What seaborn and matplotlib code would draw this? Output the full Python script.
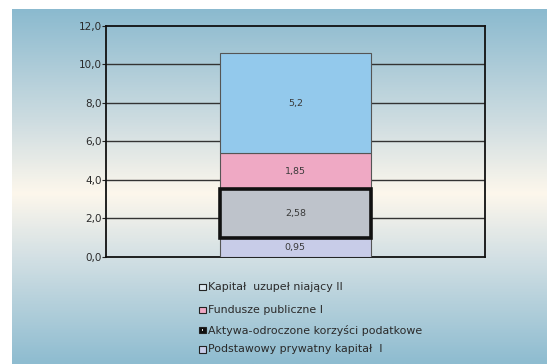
import numpy as np
import pandas as pd
import matplotlib
matplotlib.use("Agg")
import matplotlib.pyplot as plt
from matplotlib.patches import Rectangle
from matplotlib.colors import LinearSegmentedColormap
import seaborn as sns

# ---- data ----
segments = ["Podstawowy prywatny kapitał  I",
            "Aktywa-odroczone korzyści podatkowe",
            "Fundusze publiczne I",
            "Kapitał  uzupeł niający II"]
values = [0.95, 2.58, 1.85, 5.2]
value_labels = ["0,95", "2,58", "1,85", "5,2"]
legend_order = ["Kapitał  uzupeł niający II",
                "Fundusze publiczne I",
                "Aktywa-odroczone korzyści podatkowe",
                "Podstawowy prywatny kapitał  I"]
y_ticks = [0, 2, 4, 6, 8, 10, 12]
y_tick_labels = ["0,0", "2,0", "4,0", "6,0", "8,0", "10,0", "12,0"]

colors = {"Podstawowy prywatny kapitał  I": "#c8cce8",
          "Aktywa-odroczone korzyści podatkowe": "#bec3cb",
          "Fundusze publiczne I": "#efa9c4",
          "Kapitał  uzupeł niający II": "#93c9ec"}
legend_marker = {"Kapitał  uzupeł niający II": "#dde9f1",
                 "Fundusze publiczne I": "#efa9c4",
                 "Aktywa-odroczone korzyści podatkowe": "#111111",
                 "Podstawowy prywatny kapitał  I": "#c8cce8"}

sns.set_theme(style="white")
plt.rcParams['font.family'] = ['DejaVu Sans']

W, H = 547, 364
fig = plt.figure(figsize=(W / 100, H / 100), dpi=100)
fig.patch.set_facecolor("white")

# ---- background gradient ----
bg = fig.add_axes([12 / W, 0, 1 - 12 / W, (H - 9) / H], zorder=-10)
stops = [(0.0, (139, 186, 207)), (0.32, (207, 221, 225)), (0.52, (253, 247, 236)),
         (0.70, (211, 224, 228)), (1.0, (142, 188, 208))]
cmap = LinearSegmentedColormap.from_list(
    "bgg", [(p, tuple(c / 255 for c in col)) for p, col in stops])
grad = np.linspace(0, 1, 400).reshape(-1, 1)
bg.imshow(grad, aspect="auto", cmap=cmap, extent=[0, 1, 0, 1], origin="upper")
bg.set_axis_off()

# ---- main axes ----
ax = fig.add_axes([106 / W, 1 - 256.7 / H, (484.7 - 106) / W, (256.7 - 26) / H])
ax.set_facecolor("none")

df = pd.DataFrame({"cat": [""] * len(values), "seg": segments, "val": values})
bottoms = np.concatenate([[0], np.cumsum(values)[:-1]])
for i, row in df.iterrows():
    thick = row["seg"].startswith("Aktywa")
    sns.barplot(x=[row["cat"]], y=[row["val"]], bottom=bottoms[i], ax=ax,
                color=colors[row["seg"]], width=0.4, saturation=1,
                edgecolor="#111111" if thick else "#555555",
                linewidth=2.6 if thick else 0.8, zorder=3 + (1 if thick else 0))
    ax.text(0, bottoms[i] + row["val"] / 2, value_labels[i], ha="center", va="center",
            fontsize=6.8, color="#3a3a3a", zorder=6)

ax.set_xlim(-0.5, 0.5)
ax.set_ylim(0, 12)
ax.set_yticks(y_ticks)
ax.set_yticklabels(y_tick_labels, fontsize=7.5, color="#2a2a2a")
ax.set_xticks([])
ax.set_xlabel("")
ax.set_ylabel("")
ax.tick_params(axis="y", length=3, width=0.8, color="#222222", pad=0, left=True, direction="out")
for yv in y_ticks[1:-1]:
    ax.axhline(yv, color="#333333", lw=1.0, zorder=1)
for s in ax.spines.values():
    s.set_visible(True)
    s.set_color("#111111")
    s.set_linewidth(1.3)

# ---- legend (manual) ----
leg_y = [286.7, 310, 330, 349.3]
for lab, yy in zip(legend_order, leg_y):
    fig.patches.append(Rectangle((199.0 / W, 1 - (yy + 3.3) / H), 6.5 / W, 6.5 / H,
                                 transform=fig.transFigure, facecolor=legend_marker[lab],
                                 edgecolor="#222222", linewidth=0.8))
    if lab.startswith("Aktywa"):
        fig.patches.append(Rectangle((201.5 / W, 1 - (yy + 0.8) / H), 1.6 / W, 1.6 / H,
                                     transform=fig.transFigure, facecolor="#dddddd",
                                     edgecolor="none"))
    fig.text(208.3 / W, 1 - yy / H, lab, ha="left", va="center", fontsize=7.9,
             color="#2a2a2a")

fig.savefig("out.png", dpi=100)
